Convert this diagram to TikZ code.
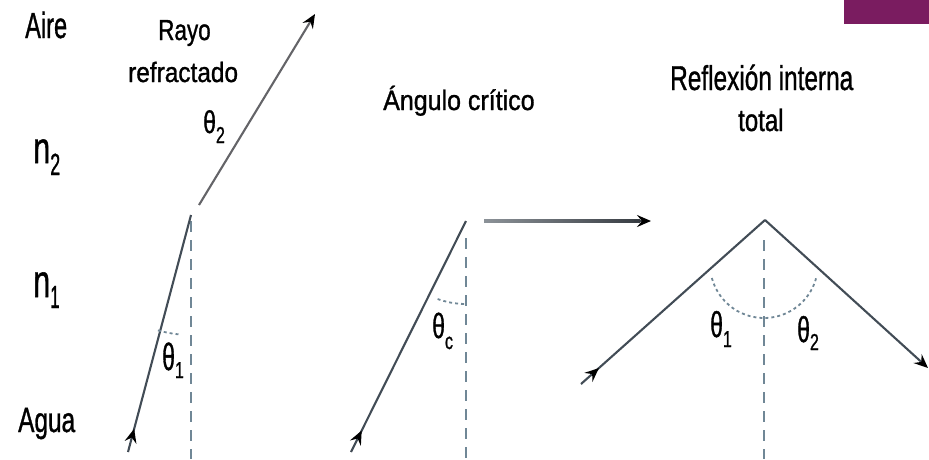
\documentclass[tikz,border=0pt]{standalone}
\usepackage{fontspec}
\setmainfont[FakeBold=1.2]{Liberation Sans}
\usepackage{graphicx}
\usetikzlibrary{arrows.meta,decorations.markings}
\definecolor{raycol}{RGB}{66,76,86}
\definecolor{raygray}{RGB}{100,100,104}
\definecolor{nrmcol}{RGB}{112,135,150}
\definecolor{plum}{RGB}{122,28,96}
\definecolor{hlight}{RGB}{140,146,152}
\definecolor{hdark}{RGB}{55,60,66}
\newcommand{\sxy}[3]{\scalebox{#1}[#2]{#3}}
\newcommand{\thl}[3]{\sxy{2.3}{#1}{θ}\raisebox{#2}{\sxy{1.6}{2.3}{#3}}}
\begin{document}
\begin{tikzpicture}[x=1pt,y=-1pt,
  lbl/.style={inner sep=0pt, anchor=base west, text=black},
  raystyle/.style={draw=raycol, line width=2.1pt},
  normalline/.style={draw=nrmcol, line width=2pt, dash pattern=on 11pt off 8pt},
  anglearc/.style={draw=nrmcol, line width=1.8pt, dash pattern=on 3pt off 3pt},
  tip/.style={-{Stealth[length=14pt,width=12pt,inset=5pt,color=black]}},
  starttip/.style={postaction={decorate}, decoration={markings,
    mark=at position 24pt with {\arrow{Stealth[length=14pt,width=12pt,inset=5pt,color=black]}}}}
]
\useasboundingbox (0,0) rectangle (929,459);
\fill[plum] (844,0) rectangle (929,24);

% labels
\node[lbl] (aire) at (25,38) {\sxy{2.36}{3.63}{Aire}};
\node[lbl] (rayo) at (158,40) {\sxy{2.25}{2.9}{Rayo}};
\node[lbl] (refr) at (128,82) {\sxy{2.44}{2.8}{refractado}};
\node[lbl] (n2) at (33,163) {\sxy{3.06}{4.4}{n}\raisebox{-12pt}{\sxy{1.8}{3.07}{2}}};
\node[lbl] (n1) at (33,297) {\sxy{3.06}{4.6}{n}\raisebox{-11pt}{\sxy{1.7}{3.2}{1}}};
\node[lbl] (agua) at (18,432) {\sxy{2.44}{3.5}{Agua}};
\node[lbl] (ang) at (383,110) {\sxy{2.5}{2.8}{Ángulo crítico}};
\node[lbl] (refl) at (670,90) {\sxy{2.44}{3.45}{Reflexión interna}};
\node[lbl] (total) at (738,131) {\sxy{2.4}{3.1}{total}};

\node[lbl] (th2l) at (203,133) {\thl{3.15}{-10pt}{2}};
\node[lbl] (th1l) at (162,370) {\thl{3.8}{-8pt}{1}};
\node[lbl] (thc) at (432,338) {\thl{3.5}{-11pt}{c}};
\node[lbl] (th1r) at (710,337) {\thl{3.6}{-10pt}{1}};
\node[lbl] (th2r) at (797,342) {\thl{3.6}{-8pt}{2}};

% left diagram
\coordinate (LS) at (128,452);
\coordinate (LI) at (191,215);
\coordinate (LR) at (199,205);
\coordinate (LE) at (315,14);
\coordinate (LN1) at (191,221);
\coordinate (LN2) at (191,459);
\draw[normalline] (LN1) -- (LN2);
\draw[raystyle,starttip] (LS) -- (LI);
\draw[raystyle,draw=raygray,tip] (LR) -- (LE);
\draw[anglearc] (LI) ++(106:120) arc[start angle=106,end angle=96,radius=120];

% middle diagram
\coordinate (MS) at (351,452);
\coordinate (MI) at (466,221);
\coordinate (MN1) at (466,238);
\coordinate (MN2) at (466,459);
\draw[normalline] (MN1) -- (MN2);
\draw[raystyle,starttip] (MS) -- (MI);
\draw[anglearc] (MI) ++(110:83) arc[start angle=110,end angle=91,radius=83];

% horizontal arrow
\coordinate (H1) at (484,221);
\coordinate (H2) at (651,221);
\shade[left color=hlight, right color=hdark] (484,219.6) rectangle (640,222.4);
\draw[hdark, line width=2.6pt, tip] (634,221) -- (H2);

% right diagram
\coordinate (RS) at (581,384);
\coordinate (RA) at (765,220);
\coordinate (RE) at (928,368);
\coordinate (RN1) at (764,240);
\coordinate (RN2) at (764,459);
\coordinate (RC) at (764,264);
\draw[normalline] (RN1) -- (RN2);
\draw[raystyle,starttip] (RS) -- (RA);
\draw[raystyle,tip] (RA) -- (RE);
\draw[anglearc] (RC) ++(165:54) arc[start angle=165,end angle=15,radius=54];
\end{tikzpicture}
\end{document}
